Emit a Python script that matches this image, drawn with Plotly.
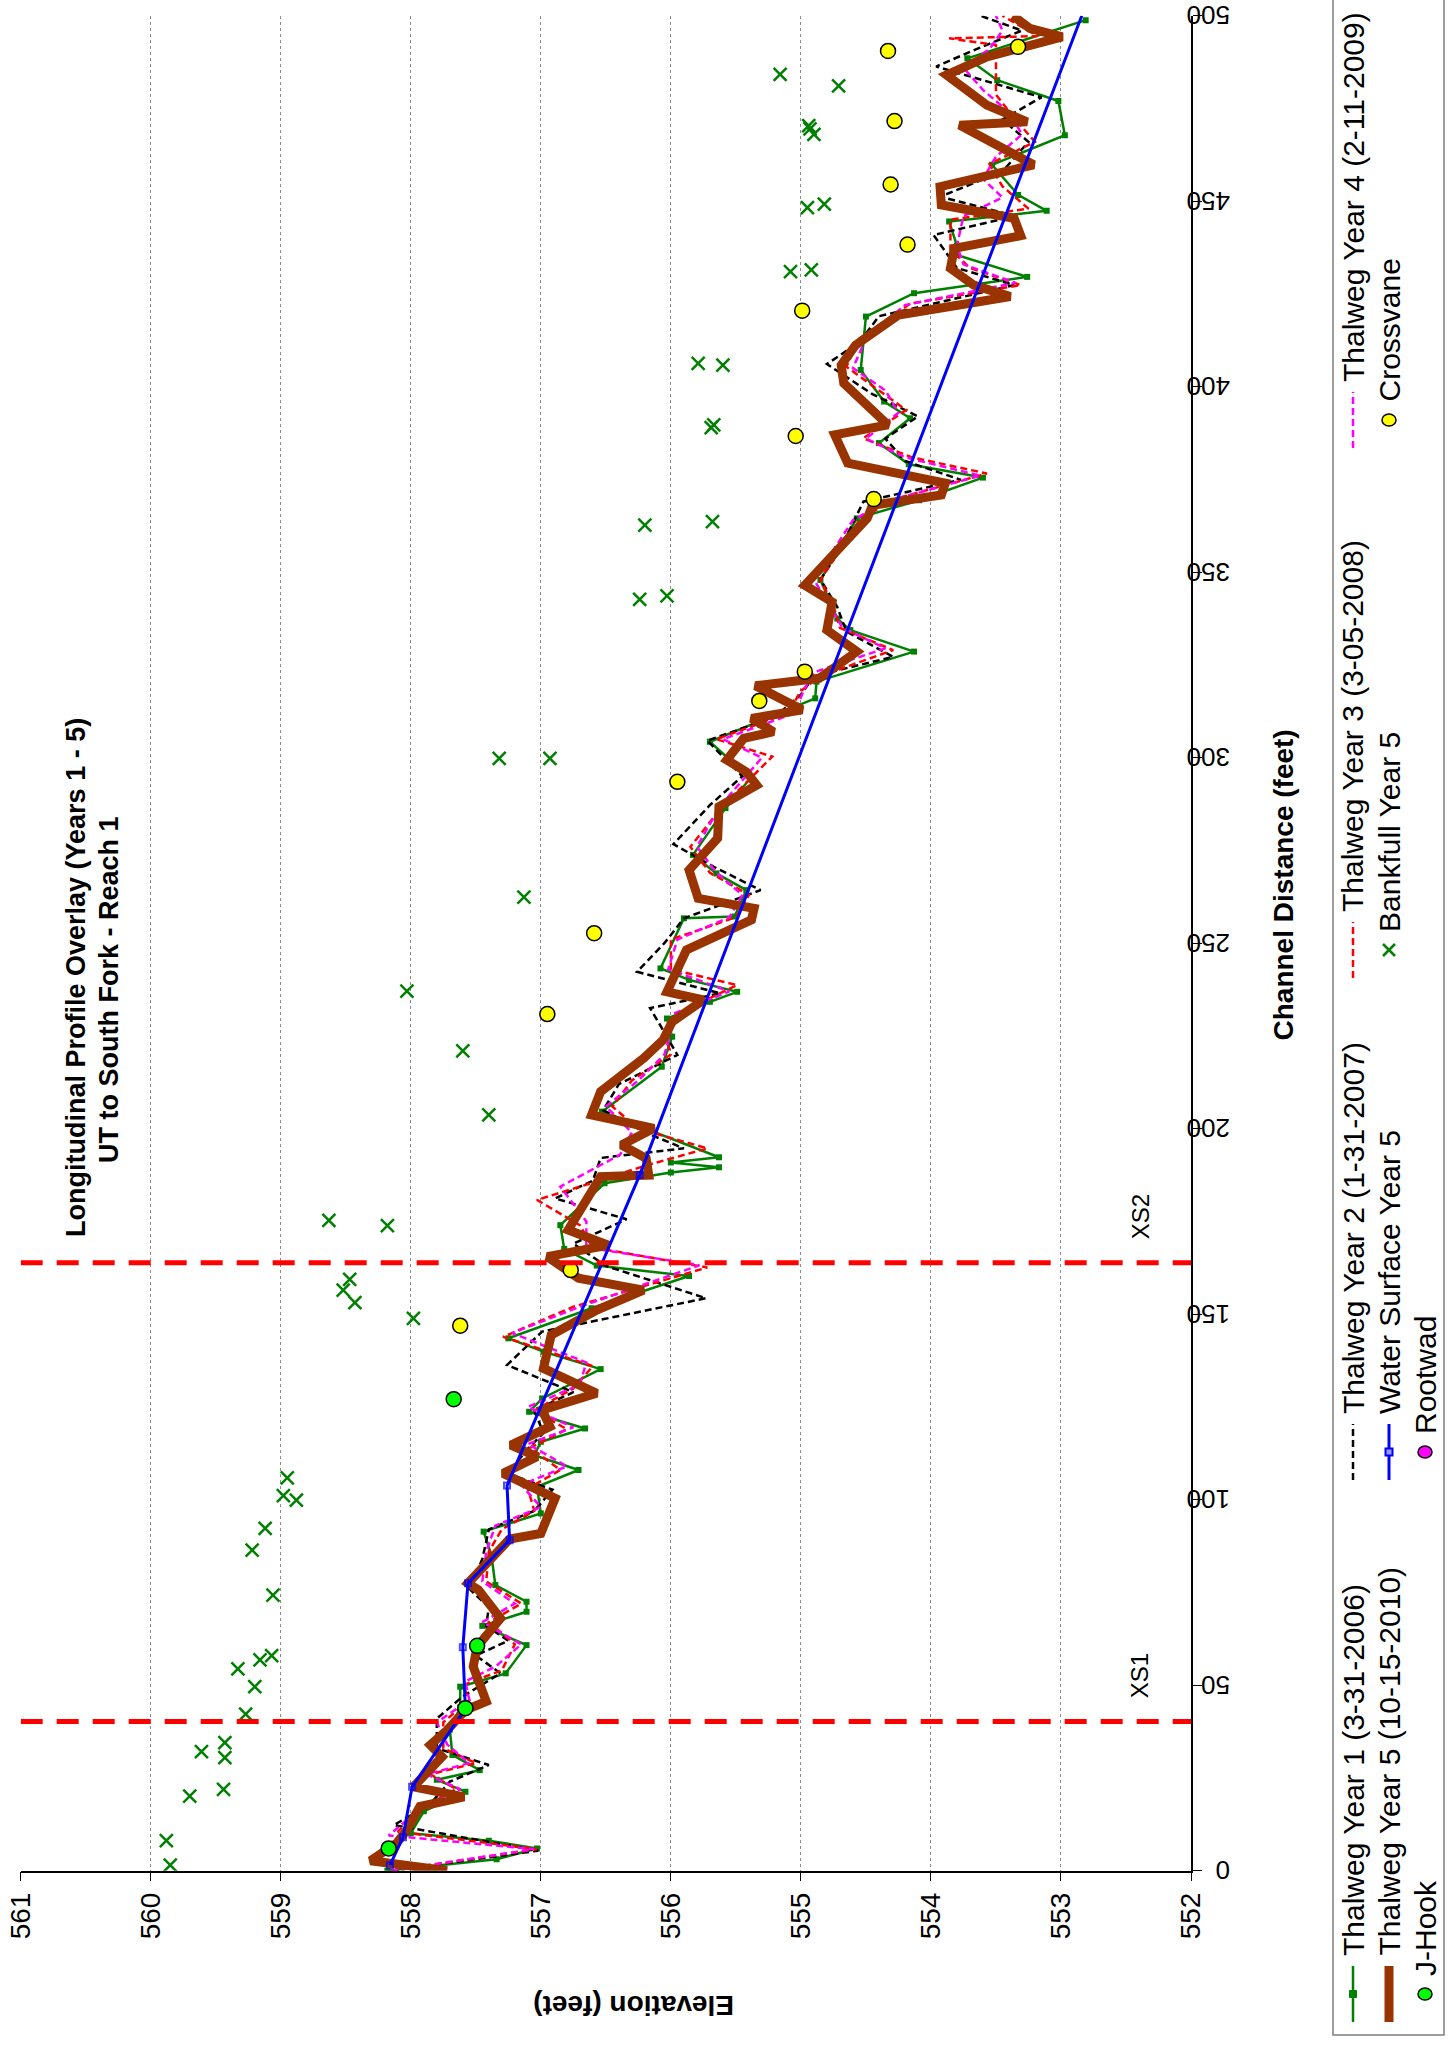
import plotly.graph_objects as go

# === page / plot geometry (pixels) ===
W, H = 1448, 2049
plot_left, plot_right = 20.7, 1191.0      # elevation 561 -> 552
plot_top, plot_bottom = 15.7, 1870.7      # distance 500 -> 0
font_family = "Liberation Sans, Arial, sans-serif"

# === Data: channel distance (ft) and elevation (ft) ===
y1_dist = [0.0, 3.1, 6.0, 8.1, 10.1, 16.0, 21.3, 24.5, 27.1, 31.2, 38.0, 44.0, 49.6, 53.2, 60.8,
           66.0, 69.8, 72.5, 77.0, 85.0, 91.4, 96.3, 103.5, 108.0, 112.0, 115.6, 119.2, 123.7,
           127.3, 135.2, 139.9, 143.5, 151.6, 160.3, 163.1, 167.6, 174.0, 185.3, 188.2, 189.6,
           190.9, 192.3, 204.6, 216.7, 224.8, 229.7, 234.2, 236.9, 240.1, 243.2, 256.7, 257.2,
           264.3, 268.8, 273.8, 286.4, 294.4, 304.3, 316.0, 320.5, 328.6, 334.4, 337.5, 347.9,
           364.5, 369.4, 375.5, 379.1, 384.8, 391.5, 396.0, 404.5, 418.9, 425.2, 429.6, 435.5,
           438.0, 444.5, 447.4, 451.7, 459.8, 467.8, 477.0, 482.6, 488.5, 498.8]
y1_elev = [558.18, 557.34, 557.03, 557.40, 558.00, 557.90, 557.58, 557.80, 557.47, 557.68, 557.70,
           557.62, 557.62, 557.27, 557.11, 557.45, 557.11, 557.11, 557.35, 557.38, 557.44, 557.00,
           557.03, 556.71, 557.05, 557.00, 556.66, 557.09, 556.99, 556.54, 556.98, 557.25, 556.61,
           555.86, 556.57, 556.82, 556.85, 556.51, 556.00, 555.63, 556.00, 555.63, 556.53, 556.07,
           555.99, 556.03, 555.70, 555.49, 555.86, 556.08, 555.90, 555.51, 555.42, 555.65, 555.83,
           555.58, 555.39, 555.70, 554.89, 554.88, 554.13, 554.62, 554.72, 554.85, 554.57, 554.09,
           553.60, 554.17, 554.40, 554.16, 554.36, 554.54, 554.50, 554.13, 553.26, 553.80, 553.80,
           553.86, 553.11, 553.33, 553.53, 552.97, 553.02, 553.49, 553.72, 552.81]

y2_dist = [0.0, 5.4, 12.3, 18.0, 24.0, 28.5, 33.0, 41.0, 47.0, 53.2, 58.0, 62.0, 66.0, 71.0, 76.0,
           84.0, 92.0, 97.0, 102.7, 107.0, 113.0, 118.0, 124.0, 129.0, 136.3, 145.3, 154.3, 163.0,
           169.0, 175.6, 181.2, 186.0, 192.1, 194.7, 199.0, 205.0, 212.0, 219.9, 226.0, 232.5,
           236.5, 242.3, 250.0, 256.7, 264.3, 270.6, 276.7, 287.2, 295.0, 304.6, 311.0, 317.0,
           322.0, 327.2, 334.0, 340.6, 348.0, 356.0, 369.0, 374.9, 380.0, 386.0, 392.0, 398.0,
           406.1, 412.0, 419.0, 427.4, 432.0, 440.9, 446.0, 451.2, 458.0, 466.0, 472.0, 478.0,
           486.3, 491.0, 496.0, 500.0]
y2_elev = [558.15, 557.02, 558.13, 557.85, 557.70, 557.40, 557.80, 557.80, 557.60, 557.31, 557.50,
           557.25, 557.42, 557.40, 557.55, 557.45, 557.40, 557.05, 556.91, 557.25, 557.12, 556.98,
           557.05, 556.75, 557.26, 556.99, 555.73, 556.50, 556.75, 556.34, 556.89, 556.60, 556.54,
           555.90, 556.20, 556.52, 556.40, 555.95, 556.05, 556.16, 555.62, 556.26, 556.05, 555.90,
           555.31, 555.67, 555.98, 555.70, 555.45, 555.72, 555.20, 555.00, 554.90, 554.29, 554.65,
           554.72, 554.85, 554.70, 554.52, 553.77, 554.20, 554.35, 554.10, 554.45, 554.80, 554.55,
           554.40, 553.36, 553.80, 553.98, 553.35, 553.93, 553.45, 553.25, 553.45, 553.15, 553.96,
           553.65, 553.30, 553.62]

y3_dist = [0.0, 5.8, 10.5, 17.0, 22.0, 26.0, 29.0, 33.0, 40.0, 46.0, 50.0, 54.0, 61.0, 67.0, 72.0,
           78.0, 86.0, 92.0, 97.0, 103.0, 108.0, 114.0, 119.0, 124.0, 130.0, 136.0, 143.9, 152.0,
           162.6, 168.0, 174.0, 180.8, 186.0, 190.0, 194.7, 200.0, 206.0, 213.0, 220.0, 226.0,
           231.0, 238.7, 243.0, 251.0, 257.0, 263.0, 269.0, 276.0, 287.0, 294.0, 300.3, 305.0,
           312.0, 318.0, 322.0, 329.0, 335.0, 341.0, 348.0, 364.0, 369.5, 376.6, 381.0, 386.1,
           393.7, 399.0, 405.4, 413.0, 422.4, 427.4, 432.0, 437.0, 445.0, 448.0, 454.0, 460.0,
           466.0, 472.0, 478.7, 484.0, 492.1, 493.9, 494.5, 500.0]
y3_elev = [558.15, 557.03, 558.10, 557.92, 557.65, 557.85, 557.50, 557.75, 557.75, 557.55, 557.60,
           557.30, 557.20, 557.40, 557.15, 557.42, 557.40, 557.30, 557.05, 557.10, 556.85, 557.08,
           556.80, 557.05, 556.75, 556.60, 557.29, 556.75, 555.72, 556.60, 556.70, 557.03, 556.55,
           556.20, 555.72, 556.25, 556.45, 556.30, 556.00, 556.05, 555.95, 555.49, 556.00, 556.00,
           555.50, 555.40, 555.70, 555.85, 555.60, 555.40, 555.22, 555.65, 555.10, 555.00, 554.85,
           554.29, 554.70, 554.75, 554.85, 554.55, 554.30, 553.57, 554.15, 554.52, 554.19, 554.40,
           554.65, 554.55, 554.16, 553.31, 553.70, 553.85, 553.85, 553.25, 553.45, 553.55, 553.20,
           553.35, 553.50, 553.50, 553.50, 553.86, 553.18, 553.45]

y4_dist = [0.0, 5.8, 9.5, 16.0, 22.0, 26.0, 29.0, 34.0, 40.0, 46.0, 51.0, 55.0, 61.0, 67.0, 72.0,
           78.0, 86.0, 93.0, 98.0, 104.0, 109.0, 115.0, 119.5, 125.0, 131.0, 137.0, 144.9, 152.0,
           163.2, 168.0, 175.0, 184.4, 193.0, 199.0, 206.0, 213.0, 220.0, 226.0, 231.0, 237.0,
           243.0, 251.0, 257.0, 263.0, 269.0, 276.0, 287.0, 294.0, 300.0, 305.0, 312.0, 318.0,
           323.0, 329.5, 335.0, 341.0, 348.0, 364.0, 369.0, 376.0, 381.0, 386.0, 393.0, 399.0,
           405.0, 413.0, 422.0, 428.0, 433.0, 438.0, 446.0, 451.0, 456.0, 462.0, 468.0, 474.0,
           480.0, 486.0, 491.0, 496.0, 500.0]
y4_elev = [558.15, 557.05, 558.17, 557.95, 557.62, 557.88, 557.55, 557.72, 557.80, 557.55, 557.58,
           557.35, 557.15, 557.45, 557.20, 557.45, 557.42, 557.35, 557.00, 557.15, 556.80, 557.10,
           556.75, 557.10, 556.70, 556.65, 557.22, 556.70, 555.78, 556.65, 556.65, 556.85, 556.39,
           556.30, 556.50, 556.25, 556.05, 556.00, 555.98, 555.55, 556.02, 555.95, 555.55, 555.45,
           555.65, 555.80, 555.62, 555.45, 555.30, 555.60, 555.05, 554.98, 554.90, 554.35, 554.68,
           554.78, 554.90, 554.60, 554.35, 553.62, 554.20, 554.50, 554.25, 554.35, 554.60, 554.50,
           554.20, 553.35, 553.75, 553.80, 553.75, 553.45, 553.60, 553.50, 553.30, 553.40, 553.60,
           553.75, 553.55, 553.45, 553.50]

y5_dist = [0.0, 2.7, 7.4, 11.0, 17.3, 19.9, 22.6, 30.7, 33.9, 37.9, 43.3, 45.6, 55.0, 60.4, 68.0,
           75.7, 77.5, 83.8, 89.4, 90.9, 100.4, 107.1, 111.6, 114.7, 119.7, 124.2, 128.7, 135.4,
           144.4, 151.1, 156.5, 159.7, 165.5, 168.6, 172.7, 187.1, 187.5, 192.0, 195.6, 200.1,
           203.7, 210.0, 219.0, 223.9, 228.8, 234.7, 236.9, 248.2, 256.3, 259.4, 262.1, 269.7,
           278.3, 286.8, 292.6, 296.2, 299.4, 305.2, 307.0, 310.6, 312.9, 319.4, 321.4, 328.6,
           334.4, 342.0, 346.5, 364.5, 368.0, 370.8, 374.0, 379.4, 387.0, 389.7, 400.9, 405.8,
           411.2, 419.3, 424.3, 427.4, 431.9, 437.3, 440.7, 445.4, 449.0, 453.9, 459.8, 470.5,
           471.4, 475.9, 484.0, 488.9, 494.3, 496.6, 500.0]
y5_elev = [557.72, 558.31, 558.11, 558.03, 557.93, 557.59, 557.98, 557.76, 557.85, 557.72, 557.58,
           557.42, 557.52, 557.49, 557.31, 557.48, 557.56, 557.39, 557.24, 557.00, 556.89, 557.29,
           557.03, 557.23, 556.93, 556.99, 556.57, 556.98, 556.92, 556.57, 556.21, 556.71, 556.95,
           556.48, 556.79, 556.54, 556.17, 556.19, 556.38, 556.13, 556.61, 556.54, 556.21, 556.06,
           555.99, 555.75, 556.03, 555.88, 555.38, 555.36, 555.79, 555.86, 555.64, 555.63, 555.34,
           555.42, 555.57, 555.44, 555.21, 555.38, 554.99, 555.35, 554.86, 554.57, 554.80, 554.76,
           554.97, 554.49, 554.45, 553.92, 553.89, 554.64, 554.74, 554.33, 554.67, 554.69, 554.58,
           554.25, 553.39, 553.67, 553.85, 553.82, 553.31, 553.36, 553.92, 553.93, 553.21, 553.78,
           553.26, 553.57, 553.88, 553.57, 552.99, 553.24, 553.37]

ws_dist = [1.5, 9.0, 22.6, 43.6, 60.2, 77.5, 89.1, 103.8, 187.5, 500.0]
ws_elev = [558.16, 558.06, 557.99, 557.58, 557.60, 557.56, 557.24, 557.26, 556.24, 552.84]

bf_dist = [1.5, 8.1, 20.1, 21.9, 30.5, 32.1, 34.5, 42.2, 49.6, 54.4, 56.8, 58.0, 74.3, 86.4, 92.3,
           99.9, 101.1, 105.9, 148.9, 153.1, 156.5, 159.4, 173.9, 175.3, 203.7, 221.0, 237.1,
           262.4, 299.8, 299.8, 342.7, 343.6, 362.7, 363.6, 389.0, 389.7, 405.8, 406.3, 431.0,
           431.5, 448.3, 449.2, 468.0, 469.5, 470.4, 481.1, 484.2]
bf_elev = [559.85, 559.88, 559.70, 559.44, 559.43, 559.61, 559.43, 559.27, 559.20, 559.33, 559.16,
           559.07, 559.06, 559.22, 559.12, 558.88, 558.98, 558.95, 557.98, 558.43, 558.52, 558.47,
           558.18, 558.63, 557.40, 557.60, 558.03, 557.13, 557.32, 556.93, 556.24, 556.03, 556.20,
           555.68, 555.69, 555.67, 555.60, 555.79, 555.08, 554.92, 554.95, 554.82, 554.90, 554.93,
           554.94, 554.71, 555.16]

cv_dist = [146.9, 161.9, 230.9, 252.7, 293.5, 315.3, 323.2, 369.7, 386.7, 420.5, 438.3, 454.5,
           471.6, 490.5, 491.6]
cv_elev = [557.62, 556.77, 556.95, 556.59, 555.95, 555.32, 554.97, 554.44, 555.04, 554.99, 554.18,
           554.31, 554.28, 554.33, 553.33]

jh_dist = [6.0, 43.8, 60.6, 127.1]
jh_elev = [558.17, 557.58, 557.49, 557.67]

rw_dist = []
rw_elev = []

xs_dist = [40.2, 163.9]
xs_names = ["XS1", "XS2"]

elev_ticks = [561, 560, 559, 558, 557, 556, 555, 554, 553, 552]
dist_ticks = [0, 50, 100, 150, 200, 250, 300, 350, 400, 450, 500]


def px(x):
    return x / W


def py(y):
    return 1 - y / H


fig = go.Figure()

dash_small = "7px,4px"

# Excel series order (later ones drawn on top)
fig.add_trace(go.Scatter(x=y1_elev, y=y1_dist, mode="lines+markers", name="Thalweg Year 1 (3-31-2006)",
                         line=dict(color="#008000", width=2.5),
                         marker=dict(symbol="square", size=6, color="#008000")))
fig.add_trace(go.Scatter(x=y2_elev, y=y2_dist, mode="lines", name="Thalweg Year 2 (1-31-2007)",
                         line=dict(color="#000000", width=2.5, dash=dash_small)))
fig.add_trace(go.Scatter(x=y3_elev, y=y3_dist, mode="lines", name="Thalweg Year 3 (3-05-2008)",
                         line=dict(color="#FF0000", width=2.5, dash=dash_small)))
fig.add_trace(go.Scatter(x=y4_elev, y=y4_dist, mode="lines", name="Thalweg Year 4 (2-11-2009)",
                         line=dict(color="#FF00FF", width=2.5, dash=dash_small)))
fig.add_trace(go.Scatter(x=y5_elev, y=y5_dist, mode="lines", name="Thalweg Year 5 (10-15-2010)",
                         line=dict(color="#993300", width=9)))
ws_sizes = [6] * (len(ws_dist) - 1) + [0]
fig.add_trace(go.Scatter(x=ws_elev, y=ws_dist, mode="lines+markers", name="Water Surface Year 5",
                         line=dict(color="#0000FF", width=3),
                         marker=dict(symbol="square-open", size=ws_sizes, color="#0000FF", line=dict(width=2))))
fig.add_trace(go.Scatter(x=bf_elev, y=bf_dist, mode="markers", name="Bankfull Year 5",
                         marker=dict(symbol="x-thin", size=13, color="#008000",
                                     line=dict(color="#008000", width=2.5))))
fig.add_trace(go.Scatter(x=cv_elev, y=cv_dist, mode="markers", name="Crossvane",
                         marker=dict(symbol="circle", size=15, color="#FFFF00",
                                     line=dict(color="#000000", width=1.5))))
fig.add_trace(go.Scatter(x=jh_elev, y=jh_dist, mode="markers", name="J-Hook",
                         marker=dict(symbol="circle", size=15, color="#00FF00",
                                     line=dict(color="#000000", width=1.5))))
fig.add_trace(go.Scatter(x=rw_elev, y=rw_dist, mode="markers", name="Rootwad",
                         marker=dict(symbol="circle", size=15, color="#FF00FF",
                                     line=dict(color="#000000", width=1.5))))

shapes = []
annotations = []

# cross-section markers
for d, name in zip(xs_dist, xs_names):
    shapes.append(dict(type="line", xref="x", yref="y", x0=561, x1=552, y0=d, y1=d,
                       line=dict(color="#FF0000", width=5, dash="22px,14px"), layer="above"))
    annotations.append(dict(xref="x", yref="y", x=552.39, y=d + 12.3, text=name, showarrow=False,
                            textangle=-90, font=dict(size=24, color="black", family=font_family)))

# distance tick labels (upside down, as in the turned chart)
for d in dist_ticks:
    annotations.append(dict(xref="paper", yref="y", x=px(1232), y=d, text=str(d), showarrow=False,
                            textangle=180, font=dict(size=26, color="black", family=font_family)))

# titles (whole chart is turned a quarter turn)
annotations.append(dict(xref="paper", yref="paper", x=px(59), y=py(978), showarrow=False, textangle=-90,
                        text="<b>Longitudinal Profile Overlay (Years 1 - 5)</b>",
                        font=dict(size=27, color="black", family=font_family)))
annotations.append(dict(xref="paper", yref="paper", x=px(92), y=py(990), showarrow=False, textangle=-90,
                        text="<b>UT to South Fork - Reach 1</b>",
                        font=dict(size=27, color="black", family=font_family)))
annotations.append(dict(xref="paper", yref="paper", x=px(1300), y=py(885), showarrow=False, textangle=-90,
                        text="<b>Channel Distance (feet)</b>",
                        font=dict(size=28, color="black", family=font_family)))
annotations.append(dict(xref="paper", yref="paper", x=px(634), y=py(2023), showarrow=False, textangle=180,
                        text="<b>Elevation (feet)</b>",
                        font=dict(size=28, color="black", family=font_family)))

# === hand-drawn legend (rotated) ===
shapes.append(dict(type="rect", xref="paper", yref="paper", x0=px(1333), x1=px(1444), y0=py(2035), y1=py(-10),
                   line=dict(color="#7f7f7f", width=1.5), fillcolor="rgba(0,0,0,0)"))
col_x = [1353, 1389, 1425]
grp_y = [1994, 1452, 950, 420]
sym_half = 28
legend_items = [
    (0, 0, "Thalweg Year 1 (3-31-2006)", "line", dict(color="#008000", width=2.5), "square", "#008000"),
    (0, 1, "Thalweg Year 2 (1-31-2007)", "line", dict(color="#000000", width=2.5, dash=dash_small), None, None),
    (0, 2, "Thalweg Year 3 (3-05-2008)", "line", dict(color="#FF0000", width=2.5, dash=dash_small), None, None),
    (0, 3, "Thalweg Year 4 (2-11-2009)", "line", dict(color="#FF00FF", width=2.5, dash=dash_small), None, None),
    (1, 0, "Thalweg Year 5 (10-15-2010)", "line", dict(color="#993300", width=9), None, None),
    (1, 1, "Water Surface Year 5", "line", dict(color="#0000FF", width=3), "square-open", "#0000FF"),
    (1, 2, "Bankfull Year 5", "x", None, None, "#008000"),
    (1, 3, "Crossvane", "circle", None, None, "#FFFF00"),
    (2, 0, "J-Hook", "circle", None, None, "#00FF00"),
    (2, 1, "Rootwad", "circle", None, None, "#FF00FF"),
]
for c, g, label, kind, lstyle, mark, mcol in legend_items:
    cx, cy = col_x[c], grp_y[g]
    if kind == "line":
        shapes.append(dict(type="line", xref="paper", yref="paper", x0=px(cx), x1=px(cx),
                           y0=py(cy + sym_half), y1=py(cy - sym_half), line=lstyle))
        if mark == "square":
            shapes.append(dict(type="rect", xref="paper", yref="paper", x0=px(cx - 3.5), x1=px(cx + 3.5),
                               y0=py(cy + 3.5), y1=py(cy - 3.5), line=dict(color=mcol, width=1), fillcolor=mcol))
        elif mark == "square-open":
            shapes.append(dict(type="rect", xref="paper", yref="paper", x0=px(cx - 3.5), x1=px(cx + 3.5),
                               y0=py(cy + 3.5), y1=py(cy - 3.5), line=dict(color=mcol, width=2),
                               fillcolor="#9999ff"))
    elif kind == "x":
        for s in (1, -1):
            shapes.append(dict(type="line", xref="paper", yref="paper", x0=px(cx - 6), x1=px(cx + 6),
                               y0=py(cy - 6 * s), y1=py(cy + 6 * s), line=dict(color=mcol, width=2.5)))
    else:
        shapes.append(dict(type="circle", xref="paper", yref="paper", x0=px(cx - 7), x1=px(cx + 7),
                           y0=py(cy + 6), y1=py(cy - 6), line=dict(color="#000000", width=1.5), fillcolor=mcol))
    text_start = cy - sym_half - 8 if kind == "line" else cy - 16
    annotations.append(dict(xref="paper", yref="paper", x=px(cx), y=py(text_start), xanchor="center",
                            yanchor="bottom", showarrow=False, textangle=-90, text=label,
                            font=dict(size=30, color="black", family=font_family)))

fig.update_layout(
    width=W, height=H,
    margin=dict(l=0, r=0, t=0, b=0, autoexpand=False),
    paper_bgcolor="white", plot_bgcolor="rgba(0,0,0,0)",
    showlegend=False,
    font=dict(family=font_family, color="black"),
    xaxis=dict(domain=[px(plot_left), px(plot_right)], range=[561, 552], tickvals=elev_ticks,
               ticktext=[str(v) for v in elev_ticks], tickangle=-90, ticks="outside", ticklen=9,
               tickcolor="black", tickfont=dict(size=28, family=font_family), showline=True,
               linecolor="black", linewidth=1.5, showgrid=True, gridcolor="#8c8c8c", griddash="dot",
               gridwidth=1, zeroline=False, fixedrange=True, automargin=False),
    yaxis=dict(domain=[py(plot_bottom), py(plot_top)], range=[0, 500], tickvals=dist_ticks,
               showticklabels=False, side="right", ticks="outside",
               ticklen=9, tickcolor="black", showline=True,
               linecolor="black", linewidth=1.5, showgrid=False, zeroline=False, fixedrange=True,
               automargin=False),
    shapes=shapes,
    annotations=annotations,
)

fig.write_html("out.html", config={"displayModeBar": False},
               post_script="document.body.style.margin='0';")
